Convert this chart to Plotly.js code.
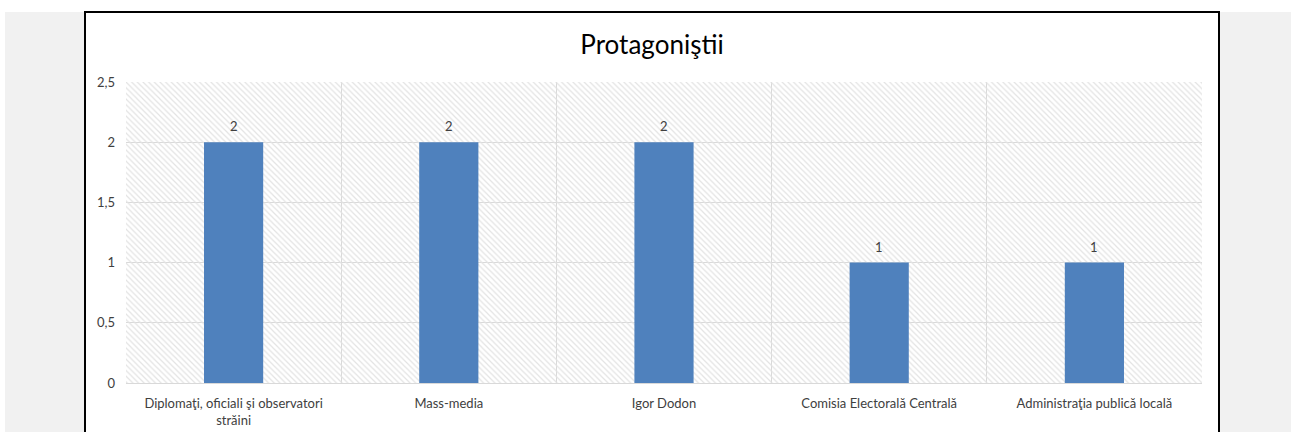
<!DOCTYPE html>
<html>
<head>
<meta charset="utf-8">
<script src="https://cdn.plot.ly/plotly-3.0.1.min.js"></script>
<style>
  html, body { margin: 0; padding: 0; background: #ffffff; width: 1291px; height: 432px; overflow: hidden; }
  #gray { position: absolute; left: 5px; top: 12px; width: 1286px; height: 420px; background: #f1f1f1; }
  #frame { position: absolute; left: 84px; top: 11px; width: 1132px; height: 440px; border: 2px solid #000; background: #fff; }
  #chart { width: 1132px; height: 440px; }
</style>
</head>
<body>
<div id="gray"></div>
<div id="frame"><div id="chart"></div></div>
<script>
const categories = [
  "Diplomaţi, oficiali şi observatori<br>străini",
  "Mass-media",
  "Igor Dodon",
  "Comisia Electorală Centrală",
  "Administraţia publică locală"
];
const values = [2, 2, 2, 1, 1];
const axisMax = 2.5;
const yTickVals = [0, 0.5, 1, 1.5, 2, 2.5];
const chartTitle = "Protagoniştii";

const FONT = "Lato, 'Open Sans', sans-serif";
const TXT = "#404040";

const hatch = {
  type: "bar",
  x: categories,
  y: categories.map(() => axisMax),
  width: 1,
  marker: {
    color: "#e3e3e3",
    line: { width: 0 },
    pattern: { shape: "\\", size: 4, solidity: 0.3, fillmode: "replace" }
  },
  hoverinfo: "skip",
  showlegend: false
};

const bars = {
  type: "bar",
  x: categories,
  y: values,
  width: 0.275,
  marker: { color: "#4f81bd", line: { width: 0 } },
  hoverinfo: "skip",
  showlegend: false
};

const labels = categories.map((c, i) => ({
  x: c, y: values[i], xref: "x", yref: "y",
  text: String(values[i]),
  showarrow: false,
  yanchor: "bottom",
  yshift: 6,
  font: { family: FONT, size: 13, color: TXT }
}));

const layout = {
  width: 1132,
  height: 440,
  margin: { l: 40, r: 16, t: 69, b: 70 },
  paper_bgcolor: "#ffffff",
  plot_bgcolor: "#ffffff",
  barmode: "overlay",
  separators: ",.",
  annotations: labels,
  title: {
    text: chartTitle,
    font: { family: FONT, size: 26, color: "#000000" },
    x: 0.5, xanchor: "center",
    y: 1 - 32 / 440, yanchor: "middle"
  },
  font: { family: FONT, size: 13, color: TXT },
  xaxis: {
    type: "category",
    tickson: "boundaries",
    showgrid: true,
    gridcolor: "#d9d9d9",
    gridwidth: 1,
    ticks: "",
    showline: true,
    linecolor: "#d9d9d9",
    linewidth: 1,
    ticklabelstandoff: 8,
    tickfont: { family: FONT, size: 13, color: TXT },
    fixedrange: true
  },
  yaxis: {
    range: [0, axisMax],
    tickvals: yTickVals,
    ticktext: yTickVals.map(v => String(v).replace(".", ",")),
    showgrid: true,
    gridcolor: "#d9d9d9",
    gridwidth: 1,
    zeroline: false,
    showline: false,
    ticks: "",
    ticklabelstandoff: 10,
    tickfont: { family: FONT, size: 13, color: TXT },
    fixedrange: true
  }
};

Plotly.newPlot("chart", [hatch, bars], layout, { displayModeBar: false, staticPlot: true });
</script>
</body>
</html>
